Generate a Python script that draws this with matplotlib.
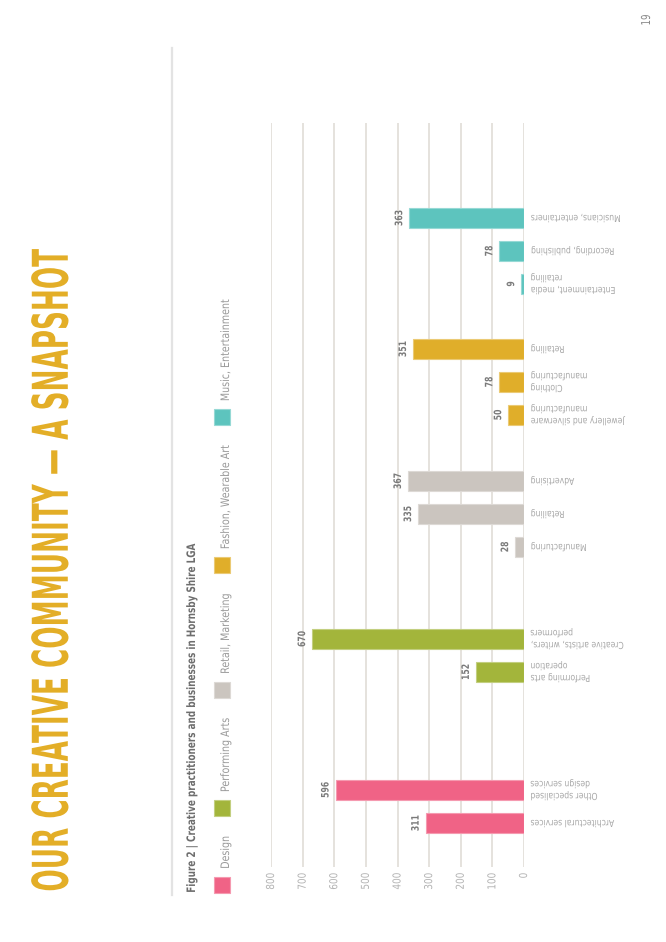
import matplotlib
matplotlib.use('Agg')

import matplotlib.pyplot as plt
import matplotlib.colors as mcolors
from matplotlib.font_manager import FontProperties
from matplotlib.patches import Rectangle
from matplotlib.lines import Line2D
from matplotlib.patheffects import AbstractPathEffect
from matplotlib.transforms import Affine2D, Bbox

# page is laid out rotated 90 degrees, so everything is drawn in portrait pixels
W, H = 666, 942

title = "OUR CREATIVE COMMUNITY \u2014 A SNAPSHOT"
caption = "Figure 2 | Creative practitioners and businesses in Hornsby Shire LGA"
page_no = "19"

groups = ["Design", "Performing Arts", "Retail, Marketing",
          "Fashion, Wearable Art", "Music, Entertainment"]
group_colors = ["#F06386", "#A3B53B", "#CBC5BF", "#E0AE2A", "#5DC4BE"]

design_cats = ["Architectural services", "Other specialised\ndesign services"]
design_vals = [311, 596]
performing_cats = ["Performing arts\noperation", "Creative artists, writers,\nperformers"]
performing_vals = [152, 670]
retail_cats = ["Manufacturing", "Retailing", "Advertising"]
retail_vals = [28, 335, 367]
fashion_cats = ["Jewellery and silverware\nmanufacturing", "Clothing\nmanufacturing", "Retailing"]
fashion_vals = [50, 78, 351]
music_cats = ["Entertainment, media\nretailing", "Recording, publishing", "Musicians, entertainers"]
music_vals = [9, 78, 363]

x_ticks = [0, 100, 200, 300, 400, 500, 600, 700, 800]

group_cats = [design_cats, performing_cats, retail_cats, fashion_cats, music_cats]
group_vals = [design_vals, performing_vals, retail_vals, fashion_vals, music_vals]

PICK = {'min': lambda a, b: a, 'max': lambda a, b: b, 'center': lambda a, b: (a + b) / 2}


def _squeeze(k, axis, keep, k2, keep2, x0, y0, x1, y1):
    # scale by k along the reading direction and k2 across it
    if axis == 'y':
        ax_, ay = PICK[keep2](x0, x1), PICK[keep](y0, y1)
        return Affine2D().translate(-ax_, -ay).scale(k2, k).translate(ax_, ay)
    ax_, ay = PICK[keep](x0, x1), PICK[keep2](y0, y1)
    return Affine2D().translate(-ax_, -ay).scale(k, k2).translate(ax_, ay)


class Squeeze(AbstractPathEffect):
    """Narrow the glyphs along the reading direction (the source uses a condensed face)."""

    def __init__(self, k, axis='y', keep='min', k2=1.0, keep2='center'):
        super().__init__()
        self.args = (k, axis, keep, k2, keep2)

    def draw_path(self, renderer, gc, tpath, affine, rgbFace=None):
        e = affine.transform_path(tpath).get_extents()
        t = _squeeze(*self.args, e.x0, e.y0, e.x1, e.y1)
        renderer.draw_path(gc, tpath, affine + t, rgbFace)


def condense(t, k, axis='y', keep='min', k2=1.0, keep2='center'):
    # squeeze the drawn glyphs and report the squeezed box as the text's extent
    t.set_path_effects([Squeeze(k, axis, keep, k2, keep2)])
    orig = t.get_window_extent

    def extent(renderer=None, dpi=None):
        bb = orig(renderer, dpi)
        tr = _squeeze(k, axis, keep, k2, keep2, bb.x0, bb.y0, bb.x1, bb.y1)
        return Bbox(tr.transform(bb.get_points()))

    t.get_window_extent = extent
    return t


fp_bold = FontProperties(family='DejaVu Sans', weight='bold')
fp_reg = FontProperties(family='DejaVu Sans')

fig = plt.figure(figsize=(W / 100, H / 100), dpi=100)
renderer = fig.canvas.get_renderer()


def fpx(x, y):
    return (x / W, 1 - y / H)


def measure(fp, s, fs):
    t = fig.text(0, 0, s, fontproperties=fp, fontsize=fs)
    w = t.get_window_extent(renderer).width
    t.remove()
    return w


def style(fp, cap_px, sample, target):
    # font size from cap height, squeeze factor from the wanted length
    fs = cap_px / 0.729 * 0.72
    return fs, target / measure(fp, sample, fs)


def lighter(c, amt=0.35):
    r, g, b = mcolors.to_rgb(c)
    return (r + (1 - r) * amt, g + (1 - g) * amt, b + (1 - b) * amt)


# title: base size keeps the unsqueezed run inside the page, glyphs are then
# stretched across and squeezed along to the printed size
fs_full, _ = style(fp_bold, 36, title, 642)
fs_title = fs_full * 850 / measure(fp_bold, title, fs_full)
k_title = 642 / 850
k2_title = fs_full / fs_title

fs_cap, k_cap = style(fp_bold, 8.5, caption, 348)
fs_leg, k_leg = style(fp_reg, 8.5, "Fashion, Wearable Art", 104)
fs_cat, k_cat = style(fp_reg, 7, "Architectural services", 84)
fs_tick, k_tick = style(fp_reg, 8, "800", 17)
fs_val, k_val = style(fp_bold, 7.5, "670", 16)
fs_page, k_page = style(fp_reg, 9, page_no, 11)

# header
condense(fig.text(*fpx(68, 892), title, fontproperties=fp_bold, fontsize=fs_title,
                  color="#E3AE27", rotation=90, rotation_mode='anchor',
                  ha='left', va='baseline'), k_title, k2=k2_title, keep2='max')
fig.add_artist(Line2D([172 / W, 172 / W], [1 - 48 / H, 1 - 895 / H],
                      color="#E3E3E3", lw=1.6))
condense(fig.text(*fpx(195, 893), caption, fontproperties=fp_bold, fontsize=fs_cap,
                  color="#6E6E6E", rotation=90, rotation_mode='anchor',
                  ha='left', va='baseline'), k_cap)
condense(fig.text(*fpx(650, 20), page_no, fontproperties=fp_reg, fontsize=fs_page,
                  color="#8A8A8A", rotation=90, rotation_mode='anchor',
                  ha='center', va='baseline'), k_page, keep='center')

# legend, running upward from the bottom of the page
cursor = 893
for name, col in zip(groups, group_colors):
    fig.add_artist(Rectangle(fpx(214, cursor), 16 / W, 16 / H,
                             transform=fig.transFigure, facecolor=col,
                             edgecolor=lighter(col), lw=0.8))
    start = cursor - 16 - 8
    condense(fig.text(*fpx(229, start), name, fontproperties=fp_reg, fontsize=fs_leg,
                      color="#9A9A9A", rotation=90, rotation_mode='anchor',
                      ha='left', va='baseline'), k_leg)
    cursor = start - measure(fp_reg, name, fs_leg) * k_leg - 20

# chart: data y runs in page pixels (downwards)
ax = fig.add_axes([271 / W, (H - 867) / H, (524 - 271) / W, (867 - 123) / H])
ax.set_xlim(800, 0)
ax.set_ylim(867, 123)

slot = 33
group_gap = [118, 92, 66, 65]
pos = 823
for gi, (cats, vals) in enumerate(zip(group_cats, group_vals)):
    if gi > 0:
        pos -= group_gap[gi - 1] - slot
    col = group_colors[gi]
    for cat, v in zip(cats, vals):
        ax.barh(pos, v, height=20, color=col, edgecolor=lighter(col), lw=0.8, zorder=3)
        condense(ax.annotate(str(v), xy=(v, pos), xytext=(-5, 0),
                             textcoords='offset pixels', rotation=90, ha='right',
                             va='center', fontproperties=fp_bold, fontsize=fs_val,
                             color="#7A7A7A"), k_val, keep='center')
        condense(ax.annotate(cat, xy=(0, pos), xytext=(6, 0), textcoords='offset pixels',
                             rotation=180, ha='left', va='center', multialignment='right',
                             fontproperties=fp_reg, fontsize=fs_cat, color="#A8A8A8",
                             linespacing=1.25, annotation_clip=False),
                 k_cat, axis='x', keep='min')
        pos -= slot

ax.set_xticks(x_ticks)
ax.set_xticklabels([str(v) for v in x_ticks], fontproperties=fp_reg,
                   fontsize=fs_tick, color="#B3B3B3", rotation=90,
                   path_effects=[Squeeze(k_tick, keep='max')])
ax.tick_params(axis='x', length=0, pad=4)
ax.set_yticks([])
ax.grid(axis='x', color="#E3DFDA", lw=1.3, zorder=0)
ax.set_axisbelow(True)
for sp in ax.spines.values():
    sp.set_visible(False)

fig.savefig("out.png", dpi=100)
